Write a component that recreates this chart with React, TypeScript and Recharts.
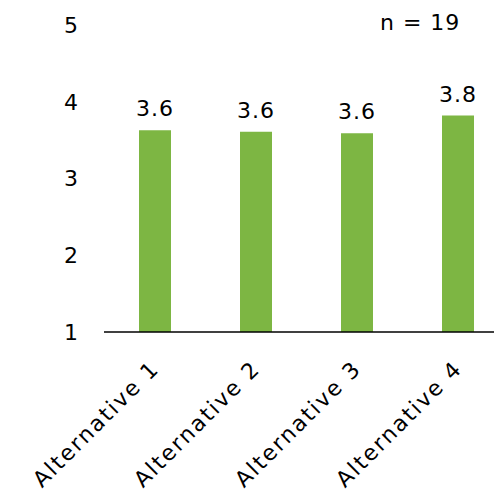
import { BarChart, Bar, XAxis, YAxis, LabelList } from 'recharts';

const categories = ['Alternative 1', 'Alternative 2', 'Alternative 3', 'Alternative 4'];
const means = [3.63, 3.61, 3.59, 3.82];
const yTicks = [1, 2, 3, 4, 5];
const sampleLabel = 'n = 19';

const data = categories.map((name, i) => ({ name, value: means[i] }));

const FONT = '"DejaVu Sans", sans-serif';

function AngledTick({ x, y, payload }: any) {
  return (
    <g transform={`translate(${x + 6},${y + 30})`}>
      <text
        transform="rotate(-45)"
        textAnchor="end"
        fill="#000"
        fontSize={22}
        letterSpacing={2}
        fontFamily={FONT}
      >
        {payload.value}
      </text>
    </g>
  );
}

export default function App() {
  return (
    <div
      style={{
        position: 'absolute',
        left: 0,
        top: 0,
        width: 494,
        height: 498,
        overflow: 'hidden',
        background: '#fff',
      }}
    >
      <BarChart
        width={508}
        height={498}
        data={data}
        margin={{ top: 25, right: 0, left: 0, bottom: 0 }}
      >
        <XAxis
          dataKey="name"
          height={166}
          interval={0}
          axisLine={{ stroke: '#000', strokeWidth: 1.5 }}
          tickLine={false}
          tick={<AngledTick />}
        />
        <YAxis
          width={104}
          domain={[1, 5]}
          ticks={yTicks}
          axisLine={false}
          tickLine={false}
          tick={{ fill: '#000', fontSize: 22, fontFamily: FONT }}
          tickMargin={20}
        />
        <Bar dataKey="value" fill="#7db643" barSize={32} isAnimationActive={false}>
          <LabelList
            dataKey="value"
            position="top"
            offset={14}
            formatter={(v: any) => Number(v).toFixed(1)}
            style={{ fill: '#000', fontSize: 22, fontFamily: FONT, letterSpacing: 1 }}
          />
        </Bar>
      </BarChart>
      <div
        style={{
          position: 'absolute',
          left: 380,
          top: 10,
          fontSize: 22,
          fontFamily: FONT,
          color: '#000',
          letterSpacing: 1,
          whiteSpace: 'nowrap',
        }}
      >
        {sampleLabel}
      </div>
    </div>
  );
}
